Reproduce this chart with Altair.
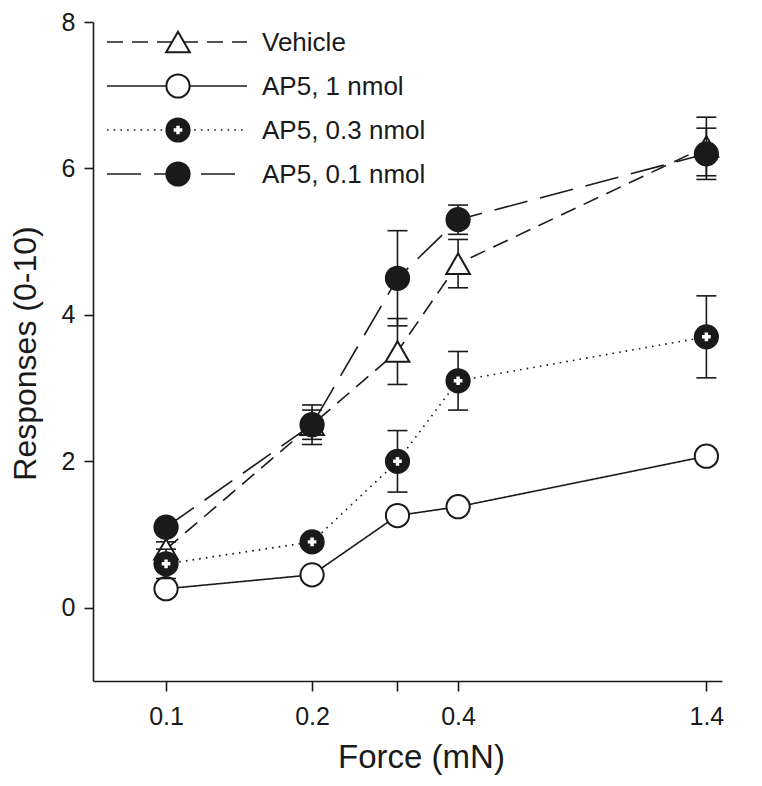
import altair as alt
import pandas as pd

# ---------------- data ----------------
series_names = ["Vehicle", "AP5, 1 nmol", "AP5, 0.3 nmol", "AP5, 0.1 nmol"]

# force values as placed on the log axis (last point is labelled "1.4")
force_values = [0.1, 0.2, 0.3, 0.4, 1.3]
x_tick_values = [0.1, 0.2, 0.3, 0.4, 1.3]
x_tick_labels = ["0.1", "0.2", "", "0.4", "1.4"]
y_tick_values = [0, 2, 4, 6, 8]

vehicle_mean = [0.8, 2.5, 3.5, 4.7, 6.3]
vehicle_sem = [0.1, 0.27, 0.45, 0.33, 0.4]
ap5_1_mean = [0.26, 0.45, 1.26, 1.38, 2.07]
ap5_1_sem = [0.05, 0.05, 0.08, 0.07, 0.1]
ap5_03_mean = [0.6, 0.9, 2.0, 3.1, 3.7]
ap5_03_sem = [0.2, 0.08, 0.42, 0.4, 0.56]
ap5_01_mean = [1.1, 2.5, 4.5, 5.3, 6.2]
ap5_01_sem = [0.1, 0.2, 0.65, 0.2, 0.35]

means = [vehicle_mean, ap5_1_mean, ap5_03_mean, ap5_01_mean]
sems = [vehicle_sem, ap5_1_sem, ap5_03_sem, ap5_01_sem]

rows = []
for name, m, s in zip(series_names, means, sems):
    for f, mv, sv in zip(force_values, m, s):
        rows.append({"series": name, "force": f, "mean": mv,
                     "lo": mv - sv, "hi": mv + sv})
df = pd.DataFrame(rows)

# ---------------- styles ----------------
INK = "#1a1a1a"
FONT = "Liberation Sans"
dashes = {
    "Vehicle": [16, 9],
    "AP5, 1 nmol": [1, 0],
    "AP5, 0.3 nmol": [1.6, 5.1],
    "AP5, 0.1 nmol": [34, 13],
}
marker = {
    "Vehicle": dict(shape="triangle-up", fill="white", size=560),
    "AP5, 1 nmol": dict(shape="circle", fill="white", size=540),
    "AP5, 0.3 nmol": dict(shape="circle", fill=INK, size=540),
    "AP5, 0.1 nmol": dict(shape="circle", fill=INK, size=540),
}
has_cross = {"AP5, 0.3 nmol"}

label_expr = "''"
for v, l in reversed(list(zip(x_tick_values, x_tick_labels))):
    label_expr = f"abs(datum.value - {v}) < 1e-6 ? '{l}' : ({label_expr})"

x_enc = alt.X(
    "force:Q",
    scale=alt.Scale(type="log", domain=[0.0707, 1.4], nice=False),
    axis=alt.Axis(
        values=x_tick_values, labelExpr=label_expr, labelOverlap=False,
        labelFlush=False, grid=False, tickSize=10, labelPadding=13,
        labelFontSize=25, title="Force (mN)", titleFontSize=33,
        titleFontWeight="normal", titleX=328, titleY=86,
        titleBaseline="alphabetic", titleAlign="center",
    ),
)
y_scale = alt.Scale(domain=[-1, 8], nice=False, zero=False)
y_enc = alt.Y(
    "mean:Q", scale=y_scale,
    axis=alt.Axis(
        values=y_tick_values, format="d", grid=False, tickSize=9, labelPadding=9,
        labelFontSize=25, title="Responses (0-10)", titleFontSize=32,
        titleFontWeight="normal", titleX=-58, titleY=331,
        titleBaseline="alphabetic", titleAlign="center", titleAngle=-90,
    ),
)

base = alt.Chart(df)
layers = []

# lines
for name in series_names:
    layers.append(
        base.transform_filter(alt.datum.series == name)
        .mark_line(color=INK, strokeWidth=1.6, strokeDash=dashes[name])
        .encode(x=x_enc, y=y_enc)
    )

for name in series_names:
    sub = base.transform_filter(alt.datum.series == name)
    # error bars
    layers.append(
        sub.mark_rule(color=INK, strokeWidth=1.6)
        .encode(x="force:Q", y="lo:Q", y2="hi:Q")
    )
    for fld in ["lo", "hi"]:
        layers.append(
            sub.mark_tick(orient="horizontal", color=INK, size=20, thickness=1.6, opacity=1)
            .encode(x="force:Q", y=f"{fld}:Q")
        )
    mk = marker[name]
    layers.append(
        sub.mark_point(shape=mk["shape"], filled=True, fill=mk["fill"], stroke=INK,
                       strokeWidth=2, size=mk["size"], opacity=1)
        .encode(x="force:Q", y="mean:Q")
    )
    if name in has_cross:
        layers.append(
            sub.mark_point(shape="cross", filled=True, fill="white", strokeWidth=0,
                           size=75, opacity=1)
            .encode(x="force:Q", y="mean:Q")
        )

# ---------------- legend (inside plot, upper left) ----------------
leg_x0, leg_x1, leg_mx, leg_tx = 14, 154, 85, 169
leg_y0, leg_dy = 20, 44
for i, name in enumerate(series_names):
    ly = leg_y0 + leg_dy * i
    ldf = pd.DataFrame({"label": [name]})
    lc = alt.Chart(ldf)
    layers.append(
        lc.mark_rule(color=INK, strokeWidth=1.6, strokeDash=dashes[name])
        .encode(x=alt.value(leg_x0), x2=alt.value(leg_x1), y=alt.value(ly))
    )
    mk = marker[name]
    layers.append(
        lc.mark_point(shape=mk["shape"], filled=True, fill=mk["fill"], stroke=INK,
                      strokeWidth=2, size=mk["size"], opacity=1)
        .encode(x=alt.value(leg_mx), y=alt.value(ly))
    )
    if name in has_cross:
        layers.append(
            lc.mark_point(shape="cross", filled=True, fill="white", strokeWidth=0,
                          size=75, opacity=1)
            .encode(x=alt.value(leg_mx), y=alt.value(ly))
        )
    layers.append(
        lc.mark_text(align="left", baseline="alphabetic", dy=9, fontSize=26,
                     font=FONT, color=INK)
        .encode(text="label:N", x=alt.value(leg_tx), y=alt.value(ly))
    )

chart = (
    alt.layer(*layers)
    .properties(
        width=629, height=659,
        autosize=alt.AutoSizeParams(type="none"),
        padding={"left": 85, "top": 14, "right": 30, "bottom": 97},
        background="white",
    )
    .configure_view(stroke=None)
    .configure_axis(
        domainColor=INK, domainWidth=1.6, tickColor=INK, tickWidth=1.6,
        labelColor=INK, titleColor=INK, labelFont=FONT, titleFont=FONT,
    )
)

chart.save("out.html", embed_options={"renderer": "svg", "actions": False})
